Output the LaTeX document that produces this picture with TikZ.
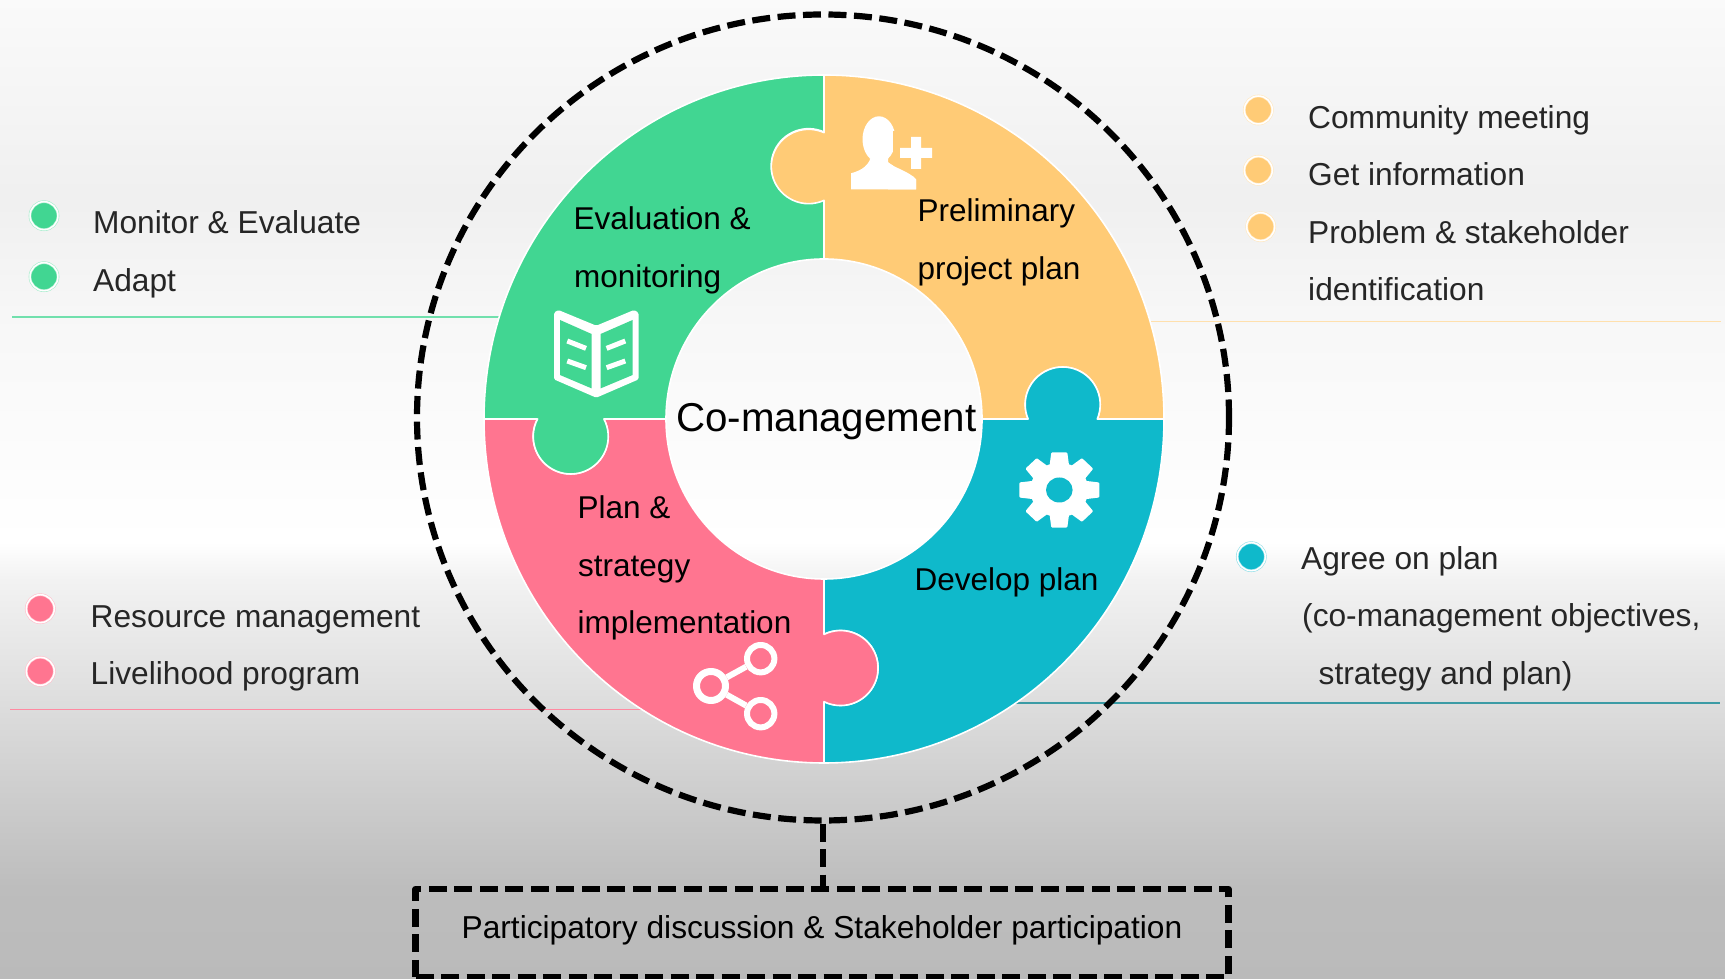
\documentclass[tikz,border=0pt]{standalone}
\usepackage{fontspec}
\setmainfont{Liberation Sans}
\usetikzlibrary{shapes.geometric}
\definecolor{cgreen}{HTML}{41D692}
\definecolor{corange}{HTML}{FFCB76}
\definecolor{cteal}{HTML}{0FB9CB}
\definecolor{cpink}{HTML}{FF7590}
\tikzset{
	piece/.style={draw=white,line width=1.6,line join=round},
	bullet/.style={circle,fill=#1,draw=#1!45,line width=0.6,double=white,double distance=1.5,inner sep=0,minimum size=28},
	item/.style={anchor=base west,inner sep=0,text=black!85,font=\fontsize{31.7}{36}\selectfont},
	title/.style={anchor=base west,inner sep=0,font=\fontsize{31.5}{36}\selectfont},
	rule/.style={line width=1.1,draw=#1},
	dashline/.style={draw=black,line width=6.2,dash pattern=on 18 off 7.5},
}
\begin{document}
\begin{tikzpicture}[x=1pt,y=1pt,line join=round]
	\def\rx{340} \def\ry{344}
	\def\rxi{158} \def\ryi{160}
	\def\tabr{37.5}
	\useasboundingbox (0,0) rectangle (1725,979);
	% background
	\foreach \ya/\yb/\ca/\cb in {0/90/black!27/black!26,90/200/black!26/black!18.5,200/280/black!18.5/black!13,280/400/black!13/black!5,400/437/black!5/white,437/660/white/black!3,660/780/black!3/black!6,780/979/black!6/black!2}
		\shade[bottom color=\ca,top color=\cb] (0,\ya-0.3) rectangle (1725,\yb+0.3);
	% rules under the ring
	\coordinate (ruleGa) at (12,662); \coordinate (ruleGb) at (510,662);
	\coordinate (ruleOa) at (1140,657.3); \coordinate (ruleOb) at (1720.7,657.3);
	\coordinate (ruleTa) at (1000,276); \coordinate (ruleTb) at (1720,276);
	\coordinate (rulePa) at (10,269.7); \coordinate (rulePb) at (660,269.7);
	\draw[rule=cgreen!75] (ruleGa)--(ruleGb);
	\draw[rule=corange!60] (ruleOa)--(ruleOb);
	\draw[rule=cteal!70!black!80] (ruleTa)--(ruleTb);
	\draw[rule=cpink!85] (rulePa)--(rulePb);
	% puzzle pieces
	\begin{scope}[shift={(824,560)}]
		\draw[piece,fill=corange] (0,\ryi)--(0,218) arc[start angle=-65.8,end angle=-294.2,radius=\tabr]--(0,\ry) arc[start angle=90,end angle=0,x radius=\rx,y radius=\ry]--(273.3,0) arc[start angle=-22.7,end angle=202.7,radius=\tabr]--(\rxi,0) arc[start angle=0,end angle=90,x radius=\rxi,y radius=\ryi]--cycle;
		\draw[piece,fill=cteal] (\rxi,0)--(204.1,0) arc[start angle=202.7,end angle=-22.7,radius=\tabr]--(\rx,0) arc[start angle=0,end angle=-90,x radius=\rx,y radius=\ry]--(0,-282.6) arc[start angle=-116.2,end angle=116.2,radius=\tabr]--(0,-\ryi) arc[start angle=-90,end angle=0,x radius=\rxi,y radius=\ryi]--cycle;
		\draw[piece,fill=cpink] (0,-\ryi)--(0,-215.4) arc[start angle=116.2,end angle=-116.2,radius=\tabr]--(0,-\ry) arc[start angle=-90,end angle=-180,x radius=\rx,y radius=\ry]--(-286.5,0) arc[start angle=152.2,end angle=387.8,radius=\tabr]--(-\rxi,0) arc[start angle=180,end angle=270,x radius=\rxi,y radius=\ryi]--cycle;
		\draw[piece,fill=cgreen] (-\rxi,0)--(-220.1,0) arc[start angle=27.8,end angle=-207.8,radius=\tabr]--(-\rx,0) arc[start angle=180,end angle=90,x radius=\rx,y radius=\ry]--(0,287) arc[start angle=65.8,end angle=294.2,radius=\tabr]--(0,\ryi) arc[start angle=90,end angle=180,x radius=\rxi,y radius=\ryi]--cycle;
	\end{scope}
	% person icon
	\begin{scope}[shift={(879,789.7)}]
		\fill[white] (-28,0)--(-28,16) .. controls (-17,19) and (-9,24) .. (-7.3,36)--(9,36)--(9,27) .. controls (16,21) and (30,18) .. (37,10)--(37,0)--cycle;
		\fill[white] (0,50) ellipse (16.5 and 23);
		\fill[corange] (14,13) rectangle (56,58);
		\fill[white] (9,27) .. controls (16,21) and (30,18) .. (37,10)--(37,0)--(9,0)--cycle;
		\fill[white] (32,20.3) rectangle (42,52.3) (21,31.3) rectangle (53,41.3);
	\end{scope}
	% book icon
	\begin{scope}[shift={(596.3,653.3)}]
		\fill[white,rounded corners=1.5] (-42.3,13)--(-38,15.7)--(0,0)--(37.7,15.7)--(42.3,13)--(42.3,-53.7)--(0,-72)--(-42.3,-53.7)--cycle;
		\fill[cgreen] (-36.3,5.7)--(-4.7,-8.3)--(-4.7,-62.7)--(-36.3,-49.3)--cycle;
		\fill[cgreen] (4.3,-8.3)--(36.3,5.7)--(36.3,-49.3)--(4.3,-62.7)--cycle;
		\draw[white,line width=5] (-29,-15.3)--(-10.3,-22.7) (-29,-35.3)--(-10.3,-42);
		\draw[white,line width=5] (29,-15.3)--(10.3,-22.7) (29,-35.3)--(10.3,-42);
	\end{scope}
	% gear icon
	\begin{scope}[shift={(1059.3,489)},yscale=0.94]
		\fill[white] (0,0) circle (29);
		\foreach \ang in {0,45,...,315}
			\fill[white,rotate=\ang,rounded corners=1] (-10,24)--(-8,40)--(8,40)--(10,24)--cycle;
		\fill[cteal] (0,0) circle (13.3);
	\end{scope}
	% share icon
	\node[circle,draw=white,line width=7,inner sep=0,minimum size=29] (shareL) at (711,293) {};
	\node[circle,draw=white,line width=6,inner sep=0,minimum size=27.4] (shareT) at (760.7,320.3) {};
	\node[circle,draw=white,line width=6,inner sep=0,minimum size=27.4] (shareB) at (760.7,265.3) {};
	\draw[white,line width=6] (shareL)--(shareT);
	\draw[white,line width=6] (shareL)--(shareB);
	% labels on the pieces
	\node[anchor=base west,inner sep=0,font=\fontsize{40.3}{46}\selectfont] (center) at (676,547) {Co-management};
	\node[title] (prelimA) at (917.5,757) {Preliminary};
	\node[title] (prelimB) at (917.5,699) {project plan};
	\node[title] (evalA) at (573.5,749) {Evaluation \&};
	\node[title] (evalB) at (574,691.3) {monitoring};
	\node[title] (planA) at (577.5,460.3) {Plan \&};
	\node[title] (planB) at (578,402) {strategy};
	\node[title] (planC) at (577.5,345) {implementation};
	\node[title] (develop) at (914.5,388) {Develop plan};
	% dashed ring and box
	\node[ellipse,dashline,inner sep=0,minimum width=812,minimum height=806] (ring) at (823,561.5) {};
	\node[rectangle,dashline,inner sep=0,minimum width=813,minimum height=88,text height=22,text depth=11.6,font=\fontsize{31.7}{36}\selectfont] (partbox) at (822,46) {Participatory discussion \& Stakeholder participation};
	\draw[dashline] (ring.south)--(ring.south |- partbox.north);
	% legends
	\node[bullet=cgreen] (bulGa) at (44,763.3) {};
	\node[bullet=cgreen] (bulGb) at (44,702.3) {};
	\node[item] (monitor) at (93,745.3) {Monitor \& Evaluate};
	\node[item] (adapt) at (93,687.5) {Adapt};
	\node[bullet=corange] (bulOa) at (1258.3,869) {};
	\node[bullet=corange] (bulOb) at (1258.3,808.7) {};
	\node[bullet=corange] (bulOc) at (1260.7,752.3) {};
	\node[item] (community) at (1308,850) {Community meeting};
	\node[item] (getinfo) at (1308,793) {Get information};
	\node[item] (problemA) at (1308,735.3) {Problem \& stakeholder};
	\node[item] (problemB) at (1308,678.7) {identification};
	\node[bullet=cteal] (bulT) at (1251.3,422.3) {};
	\node[item] (agreeA) at (1301,409.7) {Agree on plan};
	\node[item] (agreeB) at (1302,352.3) {(co-management objectives,};
	\node[item] (agreeC) at (1318.5,294) {strategy and plan)};
	\node[bullet=cpink] (bulPa) at (40.3,370.3) {};
	\node[bullet=cpink] (bulPb) at (40.3,307.7) {};
	\node[item] (resource) at (90.5,351.3) {Resource management};
	\node[item] (livelihood) at (90.5,294) {Livelihood program};
\end{tikzpicture}
\end{document}
